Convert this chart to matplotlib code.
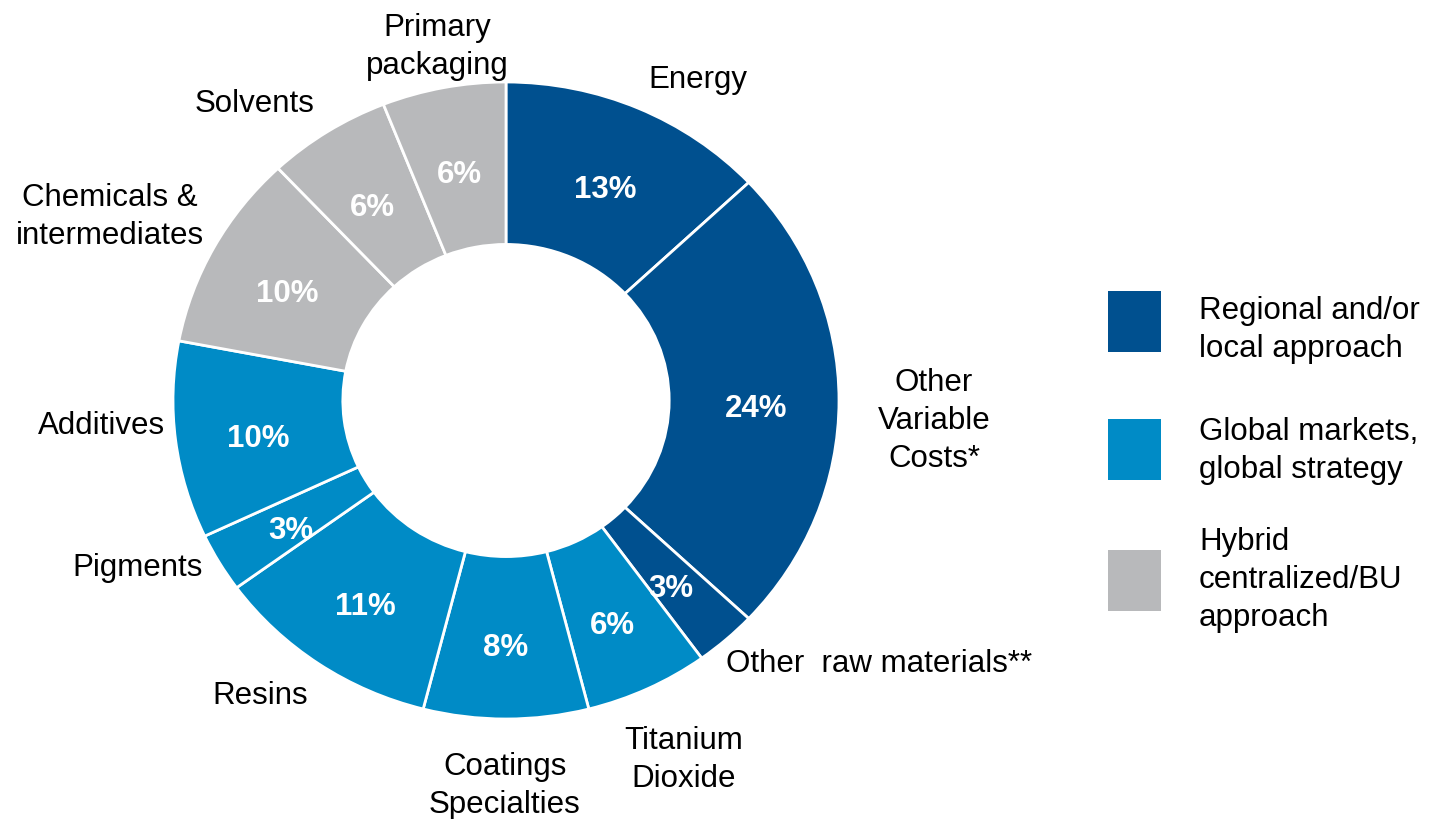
import matplotlib
matplotlib.use("Agg")
import matplotlib.pyplot as plt
from matplotlib.patches import Rectangle
import numpy as np

plt.rcParams['font.family'] = ['Liberation Sans', 'DejaVu Sans']

# ---- data ----
categories = ["Energy", "Other\nVariable\nCosts*", "Other  raw materials**", "Titanium\nDioxide",
              "Coatings\nSpecialties", "Resins", "Pigments", "Additives",
              "Chemicals &\nintermediates", "Solvents", "Primary\npackaging"]
values = [13, 24, 3, 6, 8, 11, 3, 10, 10, 6, 6]
groups = [0, 0, 0, 1, 1, 1, 1, 1, 2, 2, 2]
legend_labels = ["Regional and/or\nlocal approach", "Global markets,\nglobal strategy",
                 "Hybrid\ncentralized/BU\napproach"]

# ---- style ----
group_colors = ["#00508F", "#008BC6", "#B8B9BB"]
W, H = 1430, 820
cx, cy = 506, 401.5        # pixel centre
RX, RY = 333, 318.5        # pixel radii (chart is slightly squashed vertically)
inner = 0.49
fs = 22.5
ls = 1.35
pct_dy = 8                 # px downward shift of percent labels

# label positions (pixels: centre of text block)
label_pos = [(698, 80), (934, 421), (879, 664), (684, 760), (505, 786), (260, 696),
             (138, 568), (101, 426), (110, 217), (255, 104), (437, 47)]

fig = plt.figure(figsize=(W / 100, H / 100), dpi=100)
ax = fig.add_axes([0, 0, 1, 1])

colors = [group_colors[g] for g in groups]
wedges, _ = ax.pie(values, colors=colors, startangle=90, counterclock=False, radius=1.0,
                   wedgeprops=dict(width=1 - inner, edgecolor='white', linewidth=2.0))

ax.set_aspect('auto')
ax.set_xlim(-cx / RX, (W - cx) / RX)
ax.set_ylim(-(H - cy) / RY, cy / RY)
ax.axis('off')

total = sum(values)
ang = 90.0
for v in values:
    mid = ang - v / total * 360 / 2
    ang -= v / total * 360
    rr = 0.75
    ax.text(rr * np.cos(np.radians(mid)), rr * np.sin(np.radians(mid)) - pct_dy / RY, f"{v}%",
            ha='center', va='center', color='white', fontsize=fs, fontweight='bold')

def px(x, y):
    return (x - cx) / RX, (cy - y) / RY

for lab, (x, y) in zip(categories, label_pos):
    X, Y = px(x, y)
    ax.text(X, Y, lab, ha='center', va='center', fontsize=fs, color='black', linespacing=ls)

# legend
sq_tops = [292, 420, 551]
text_centers = [330, 451, 580]
for i, lab in enumerate(legend_labels):
    x0, y0 = px(1108, sq_tops[i] + 61)
    ax.add_patch(Rectangle((x0, y0), 53 / RX, 61 / RY, facecolor=group_colors[i], edgecolor='none'))
    tx, ty = px(1199, text_centers[i])
    ax.text(tx, ty, lab, ha='left', va='center', fontsize=fs, color='black', linespacing=ls)

fig.savefig("out.png", dpi=100, facecolor='white')
